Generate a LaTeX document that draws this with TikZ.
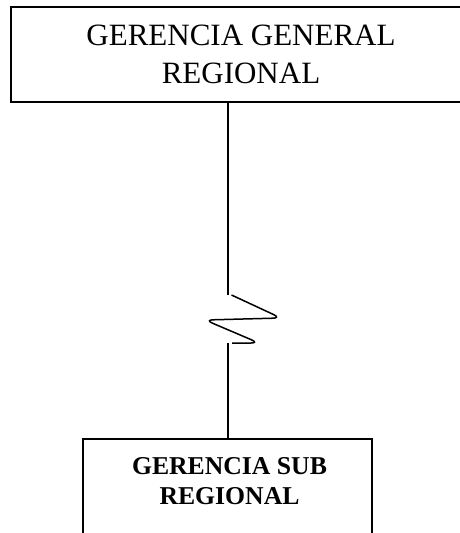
\documentclass[tikz,border=0pt]{standalone}
\usepackage{fontspec}
\setmainfont{Liberation Serif}
\begin{document}
\begin{tikzpicture}[x=1pt,y=-1pt,
  boxline/.style={draw=black,line width=1.5pt},
  conn/.style={draw=black,line width=1.5pt},
  toptext/.style={font=\fontsize{31}{38}\selectfont,align=center,inner sep=0pt},
  subtext/.style={font=\fontsize{25.7}{30}\selectfont\bfseries,align=center,inner sep=0pt}]
\useasboundingbox (0,0) rectangle (460,533);
% top box
\node[boxline,minimum width=460pt,minimum height=95pt,inner sep=0pt] (top) at (241,54.5) {};
\node[toptext] (toplabel) at (241,54) {GERENCIA GENERAL\\REGIONAL};
% bottom box
\node[boxline,minimum width=289pt,minimum height=121pt,inner sep=0pt] (sub) at (227.5,499.5) {};
\node[subtext] (sublabel) at (229.5,481.5) {GERENCIA SUB\\REGIONAL};
% break coordinates
\coordinate (b1) at (228,295);
\coordinate (b2) at (228,343);
\coordinate (z0) at (231.5,295);
\coordinate (z1) at (281,318);
\coordinate (z2) at (205,320);
\coordinate (z3) at (259,343);
\coordinate (z4) at (232,343);
\draw[conn] (top.south -| b1) -- (b1);
\draw[conn,rounded corners=8pt] (z0) -- (z1) -- (z2) -- (z3) -- (z4);
\draw[conn] (b2) -- (sub.north -| b2);
\end{tikzpicture}
\end{document}
